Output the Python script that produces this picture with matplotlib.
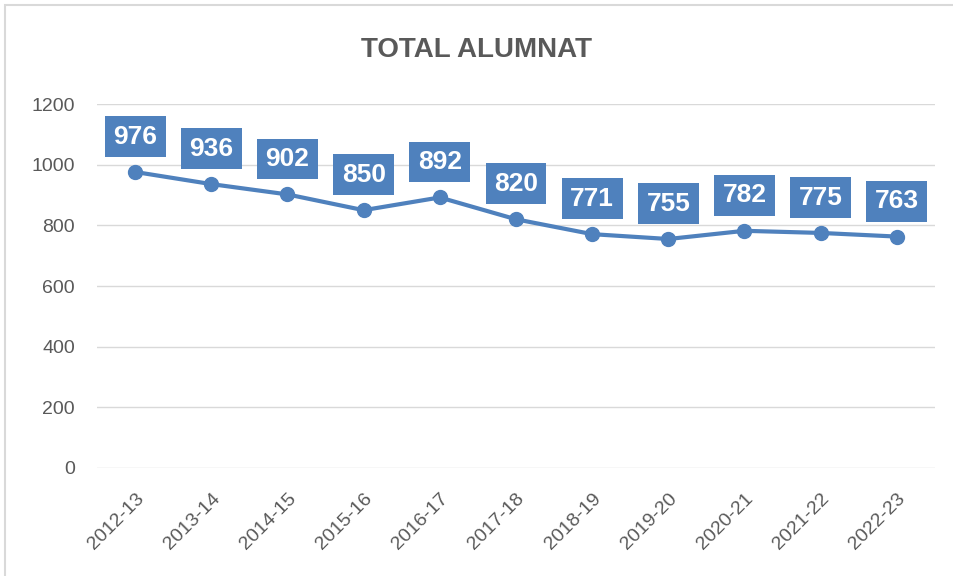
import matplotlib.pyplot as plt
from matplotlib.patches import Rectangle

# data
years = ['2012-13', '2013-14', '2014-15', '2015-16', '2016-17', '2017-18',
         '2018-19', '2019-20', '2020-21', '2021-22', '2022-23']
alumnat = [976, 936, 902, 850, 892, 820, 771, 755, 782, 775, 763]
yticks = [0, 200, 400, 600, 800, 1000, 1200]

BLUE = '#4F81BD'
GREY = '#595959'
plt.rcParams['font.family'] = ['Liberation Sans', 'DejaVu Sans']

fig = plt.figure(figsize=(9.54, 5.76), dpi=100)
ax = fig.add_axes([0.1017, 0.1875, 0.8783, 0.6319])

# chart border (top and left visible)
fig.patches.append(Rectangle((5 / 954, -0.1), 1.2, 1.1 - 5 / 576, transform=fig.transFigure,
                             fill=False, edgecolor='#D9D9D9', linewidth=1.5))

x = list(range(len(years)))
ax.plot(x, alumnat, '-o', color=BLUE, linewidth=3, markersize=10, zorder=3)

for xi, v in zip(x, alumnat):
    ax.annotate(str(v), (xi, v), xytext=(0, 25.5), textcoords='offset points',
                ha='center', va='center', color='white', fontsize=19, fontweight='bold',
                bbox=dict(boxstyle='square,pad=0.32', fc=BLUE, ec='none'), zorder=4)

ax.set_xlim(-0.5, len(years) - 0.5)
ax.set_ylim(0, 1200)
ax.set_yticks(yticks)
ax.set_xticks(x)
ax.set_xticklabels(years, rotation=45, ha='right', rotation_mode='anchor')
ax.tick_params(axis='both', length=0, labelsize=14, labelcolor=GREY)
ax.tick_params(axis='y', pad=16)
ax.tick_params(axis='x', pad=16)
ax.grid(axis='y', color='#D9D9D9', linewidth=1)
ax.set_axisbelow(True)
for s in ax.spines.values():
    s.set_visible(False)

fig.text(0.5, 0.913, 'TOTAL ALUMNAT', ha='center', va='center', fontsize=20,
         fontweight='bold', color=GREY,
         family=['Liberation Sans Narrow', 'Liberation Sans', 'DejaVu Sans'])

fig.savefig('out.png', dpi=100)
